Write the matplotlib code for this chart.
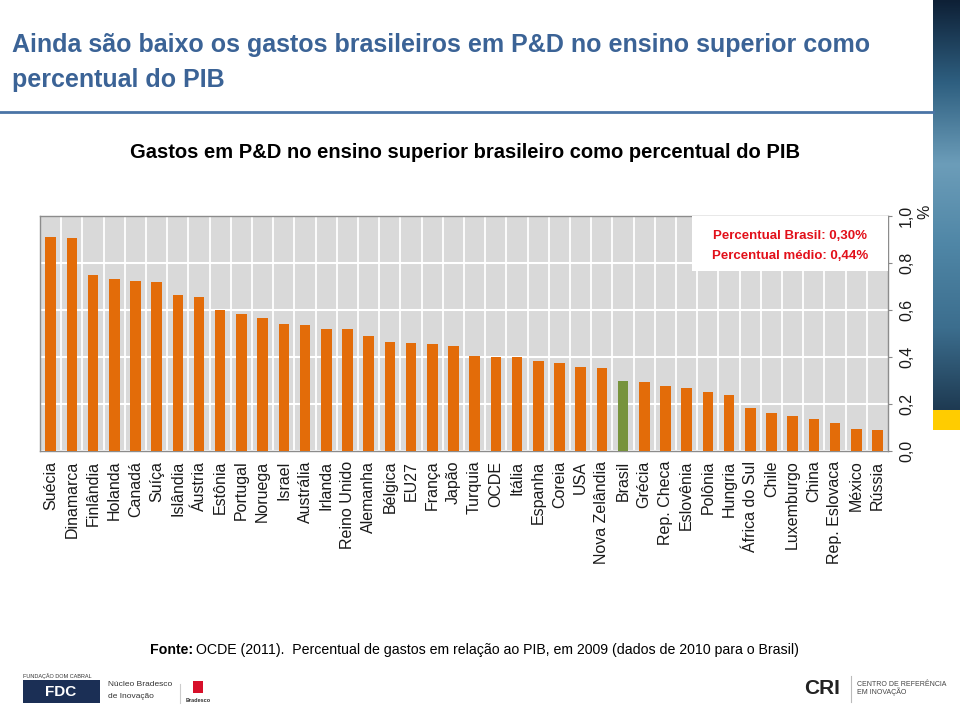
import numpy as np
import matplotlib
matplotlib.use('Agg')
import matplotlib.pyplot as plt
from matplotlib.colors import LinearSegmentedColormap
from matplotlib.patches import Rectangle

plt.rcParams['font.family'] = ['Liberation Sans', 'DejaVu Sans']

# data (% of GDP)
countries = ['Suécia', 'Dinamarca', 'Finlândia', 'Holanda', 'Canadá', 'Suíça',
             'Islândia', 'Áustria', 'Estônia', 'Portugal', 'Noruega', 'Israel',
             'Austrália', 'Irlanda', 'Reino Unido', 'Alemanha', 'Bélgica', 'EU27',
             'França', 'Japão', 'Turquia', 'OCDE', 'Itália', 'Espanha', 'Coreia',
             'USA', 'Nova Zelândia', 'Brasil', 'Grécia', 'Rep. Checa', 'Eslovênia',
             'Polônia', 'Hungria', 'África do Sul', 'Chile', 'Luxemburgo', 'China',
             'Rep. Eslovaca', 'México', 'Rússia']
values = [0.91, 0.905, 0.75, 0.73, 0.725, 0.72, 0.665, 0.655, 0.60, 0.585,
          0.565, 0.54, 0.535, 0.52, 0.518, 0.488, 0.464, 0.461, 0.454, 0.448,
          0.403, 0.399, 0.399, 0.384, 0.374, 0.357, 0.352, 0.30, 0.292, 0.277,
          0.269, 0.251, 0.24, 0.184, 0.162, 0.149, 0.136, 0.121, 0.095, 0.089]
yticks = [0.0, 0.2, 0.4, 0.6, 0.8, 1.0]
ytick_labels = ['0,0', '0,2', '0,4', '0,6', '0,8', '1,0']
highlight = 'Brasil'

orange = '#E36C09'
green = '#77933C'
title_blue = '#3B6396'

fig = plt.figure(figsize=(9.6, 7.05), dpi=100)

# title block
fig.text(12/960, 1 - 45/705, 'Ainda são baixo os gastos brasileiros em P&D no ensino superior como',
         fontsize=18, fontweight='bold', color=title_blue, va='center', ha='left')
fig.text(12/960, 1 - 80/705, 'percentual do PIB',
         fontsize=18, fontweight='bold', color=title_blue, va='center', ha='left')
fig.add_artist(plt.Line2D([0, 933/960], [1 - 112/705] * 2, color='#4A74A6', lw=2))
fig.text(465/960, 1 - 152/705, 'Gastos em P&D no ensino superior brasileiro como percentual do PIB',
         fontsize=14.5, fontweight='bold', color='black', va='center', ha='center')

# bar chart
ax = fig.add_axes([40/960, 1 - 451/705, 848/960, 235/705])
x = np.arange(len(countries))
colors = [green if c == highlight else orange for c in countries]
ax.bar(x, values, width=0.5, color=colors, zorder=3)
ax.set_facecolor('#D9D9D9')
ax.set_xlim(-0.5, len(countries) - 0.5)
ax.set_ylim(0, 1.0)
ax.set_xticks(x)
ax.set_xticklabels(countries, rotation=90, fontsize=11.5, color='#1a1a1a')
ax.set_xticks(x[:-1] + 0.5, minor=True)
ax.tick_params(axis='x', which='both', length=0, pad=7)
ax.grid(which='minor', axis='x', color='white', lw=1.3, zorder=1)
ax.yaxis.tick_right()
ax.set_yticks(yticks)
ax.set_yticklabels(ytick_labels, rotation=90, fontsize=11.5, color='#1a1a1a', va='center')
ax.tick_params(axis='y', length=3, color='#888888', pad=5)
ax.grid(axis='y', color='white', lw=1.5, zorder=1)
for s in ax.spines.values():
    s.set_color('#8c8c8c')
    s.set_linewidth(1)

# info box
ax.add_patch(Rectangle((0.769, 0.766), 0.231, 0.234, transform=ax.transAxes,
                       facecolor='white', edgecolor='none', zorder=4))
ax.text(0.884, 0.915, 'Percentual Brasil: 0,30%', transform=ax.transAxes,
        ha='center', va='center', fontsize=9.5, fontweight='bold', color='#E2101A', zorder=5)
ax.text(0.884, 0.830, 'Percentual médio: 0,44%', transform=ax.transAxes,
        ha='center', va='center', fontsize=9.5, fontweight='bold', color='#E2101A', zorder=5)
fig.text(925/960, 1 - 212/705, '%', rotation=90, fontsize=11.5, ha='center', va='center',
         color='#1a1a1a')

# source line
fig.text(150/960, 1 - 650/705, 'Fonte:', fontsize=10.2, fontweight='bold', va='center', ha='left')
fig.text(196/960, 1 - 650/705,
         'OCDE (2011).  Percentual de gastos em relação ao PIB, em 2009 (dados de 2010 para o Brasil)',
         fontsize=10.2, va='center', ha='left')

# decorative strip at the right edge
strip = fig.add_axes([933/960, 1 - 410/705, 27/960, 410/705])
cmap = LinearSegmentedColormap.from_list('water', ['#0E2036', '#2E5F80', '#6C9DB9',
                                                   '#4F86A6', '#3C6E8E', '#1E3A52'])
grad = np.linspace(0, 1, 256).reshape(-1, 1)
strip.imshow(grad, aspect='auto', cmap=cmap)
strip.axis('off')
yellow = fig.add_axes([933/960, 1 - 430/705, 27/960, 20/705])
yellow.set_facecolor('#FFCC00')
yellow.set_xticks([])
yellow.set_yticks([])
for s in yellow.spines.values():
    s.set_visible(False)

# footer logos
fig.text(23/960, 1 - 676/705, 'FUNDAÇÃO DOM CABRAL', fontsize=4, color='#333333', va='center')
fig.add_artist(Rectangle((23/960, 1 - 703/705), 77/960, 23/705, transform=fig.transFigure,
                         facecolor='#1B2F55', edgecolor='none'))
fig.text(61/960, 1 - 692/705, 'FDC', fontsize=11, fontweight='bold', color='white',
         ha='center', va='center')
fig.text(108/960, 1 - 685/705, 'Núcleo Bradesco', fontsize=6, color='#333333', va='center')
fig.text(108/960, 1 - 697/705, 'de Inovação', fontsize=6, color='#333333', va='center')
fig.add_artist(plt.Line2D([180/960] * 2, [1 - 703/705, 1 - 684/705], color='#cccccc', lw=0.8))
fig.add_artist(Rectangle((193/960, 1 - 693/705), 10/960, 12/705, transform=fig.transFigure,
                         facecolor='#D7102A', edgecolor='none'))
fig.text(198/960, 1 - 701/705, 'Bradesco', fontsize=4, fontweight='bold', color='#333333',
         ha='center', va='center')
fig.text(822/960, 1 - 689/705, 'CRI', fontsize=15, fontweight='bold', color='#222222',
         ha='center', va='center')
fig.add_artist(plt.Line2D([851/960] * 2, [1 - 702/705, 1 - 676/705], color='#bbbbbb', lw=0.8))
fig.text(857/960, 1 - 684/705, 'CENTRO DE REFERÊNCIA', fontsize=5, color='#444444', va='center')
fig.text(857/960, 1 - 692/705, 'EM INOVAÇÃO', fontsize=5, color='#444444', va='center')

fig.savefig('out.png', dpi=100)
